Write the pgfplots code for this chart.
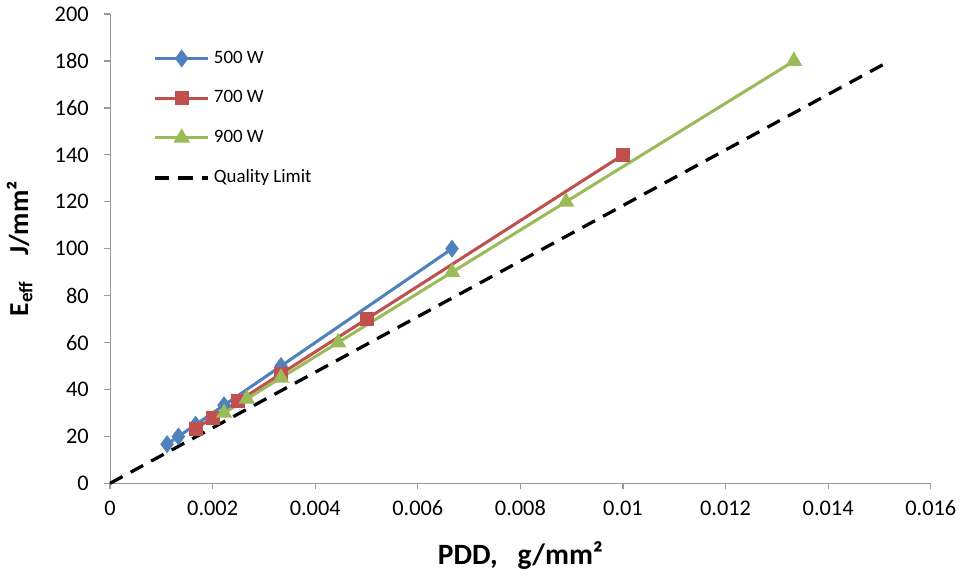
\documentclass[border=0pt]{standalone}
\usepackage{pgfplots}
\pgfplotsset{compat=1.18}
\usepackage{fontspec}
\setmainfont{Carlito}
\definecolor{xlblue}{HTML}{4F81BD}
\definecolor{xlred}{HTML}{C0504D}
\definecolor{xlgreen}{HTML}{9BBB59}
\begin{document}
\begin{tikzpicture}
\begin{axis}[
width=404pt, height=231pt, scale only axis,
xmin=0, xmax=0.016, ymin=0, ymax=200,
xtick={0,0.002,0.004,0.006,0.008,0.01,0.012,0.014,0.016},
xticklabels={0,0.002,0.004,0.006,0.008,0.01,0.012,0.014,0.016},
ytick={0,20,...,200},
axis lines=left,
axis line style={gray!80, -},
tick style={gray!80, line width=0.6pt},
tick align=outside,
major tick length=3pt,
every tick label/.append style={font=\fontsize{11}{13}\selectfont},
yticklabel style={xshift=-4pt},
xticklabel style={yshift=-2pt},
/pgf/number format/assume math mode=true,
scaled x ticks=false,
xlabel={\textbf{PDD,\ \ \ g/mm²}},
ylabel={\textbf{E\textsubscript{eff}\ \ \ \ J/mm²}},
xlabel style={font=\fontsize{14.5}{16}\selectfont, yshift=-5.5pt},
ylabel style={font=\fontsize{13.5}{15}\selectfont, yshift=4pt},
clip=false,
legend style={draw=none, fill=none, at={(0.045,0.94)}, anchor=north west,
  font=\fontsize{9.3}{11}\selectfont, row sep=8pt},
legend cell align=left,
legend image code/.code={
  \draw[#1, mark repeat=2, mark phase=2] plot coordinates {(0cm,0cm) (0.46cm,0cm) (0.92cm,0cm)};},
]
\addplot[color=xlblue, line width=1.5pt, mark=diamond*, mark size=3.2pt, mark options={fill=xlblue}]
coordinates {(0.001111,16.7)(0.001333,20)(0.001667,25)(0.002222,33.3)(0.003333,50)(0.006667,100)};
\addlegendentry{500 W}
\addplot[color=xlred, line width=1.5pt, mark=square*, mark size=2.7pt, mark options={fill=xlred}]
coordinates {(0.001667,23.3)(0.002,28)(0.0025,35)(0.003333,46.7)(0.005,70)(0.01,140)};
\addlegendentry{700 W}
\addplot[color=xlgreen, line width=1.5pt, mark=triangle*, mark size=3.2pt, mark options={fill=xlgreen}]
coordinates {(0.002222,30)(0.002667,36)(0.003333,45)(0.004444,60)(0.006667,90)(0.008889,120)(0.013333,180)};
\addlegendentry{900 W}
\addplot[black, line width=1.6pt, dash pattern=on 7pt off 4.5pt]
coordinates {(0,0)(0.0152,180)};
\addlegendentry{Quality Limit}
\end{axis}
\end{tikzpicture}
\end{document}
